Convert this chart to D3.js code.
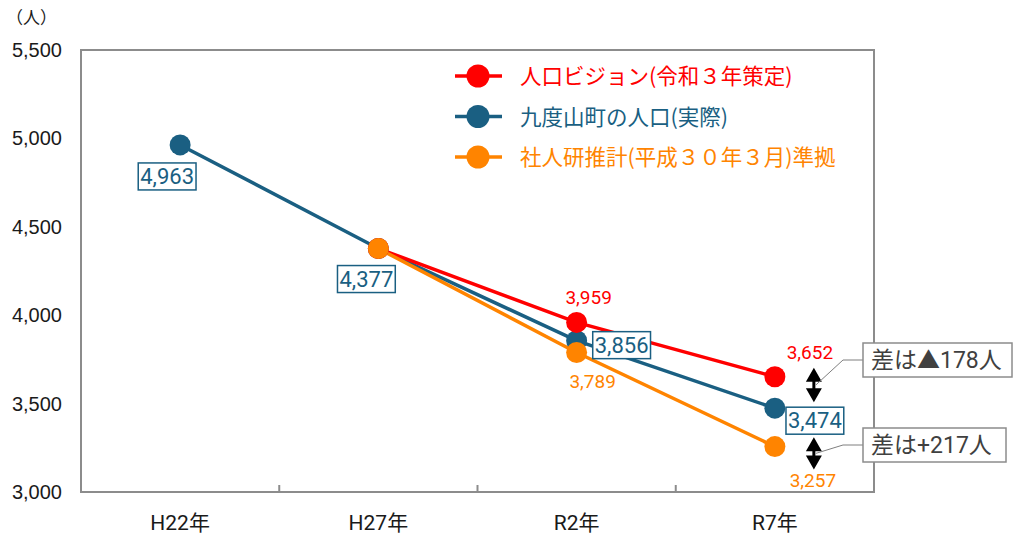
<!DOCTYPE html>
<html>
<head>
<meta charset="utf-8">
<script src="https://cdn.jsdelivr.net/npm/d3@7"></script>
<style>
  body { margin: 0; background: #fff; }
  svg { display: block; }
  text { font-family: Roboto, "Noto Sans CJK JP", sans-serif; }
</style>
</head>
<body>
<div id="chart"></div>
<script>
// data
const years = ['H22年', 'H27年', 'R2年', 'R7年'];
const actualPop = [4963, 4377, 3856, 3474];     // 九度山町の人口（実際）
const visionPop = [null, 4377, 3959, 3652];     // 人口ビジョン（令和3年策定）
const ipssPop = [null, 4377, 3789, 3257];       // 社人研推計 準拠
const yTicks = [3000, 3500, 4000, 4500, 5000, 5500];
const seriesNames = ['人口ビジョン(令和３年策定)', '九度山町の人口(実際)', '社人研推計(平成３０年３月)準拠'];
const diffNotes = ['差は▲178人', '差は+217人'];

const colors = { vision: '#ff0000', actual: '#1a5f82', ipss: '#ff8400' };

const width = 1014, height = 538;
const plot = { left: 81, right: 874, top: 50, bottom: 492 };

const svg = d3.select('#chart').append('svg')
    .attr('width', width)
    .attr('height', height);

const x = d3.scaleBand().domain(years).range([plot.left, plot.right]);
const y = d3.scaleLinear().domain([3000, 5500]).range([plot.bottom, plot.top]);
const cx = (i) => x(years[i]) + x.bandwidth() / 2;

// frame
svg.append('rect')
    .attr('x', plot.left).attr('y', plot.top)
    .attr('width', plot.right - plot.left).attr('height', plot.bottom - plot.top)
    .attr('fill', 'none').attr('stroke', '#8c8c8c').attr('stroke-width', 2);

// y axis labels
const yAxis = d3.axisLeft(y).tickValues(yTicks).tickFormat(d3.format(',')).tickSize(0).tickPadding(19);
const gy = svg.append('g').attr('transform', `translate(${plot.left},0)`).call(yAxis);
gy.select('.domain').remove();
gy.selectAll('text').attr('font-size', 20).attr('fill', '#1a1a1a')
    .style('font-family', '"Liberation Sans", Arial, sans-serif');

svg.append('text').attr('x', 6).attr('y', 24).attr('font-size', 17).attr('fill', '#1a1a1a')
    .style('font-family', '"Noto Sans CJK JP", sans-serif')
    .text('（人）');

// x axis: ticks between categories, pointing inward
const gx = svg.append('g').attr('transform', `translate(0,${plot.bottom})`);
gx.selectAll('line').data(years.slice(1)).join('line')
    .attr('x1', (d) => x(d)).attr('x2', (d) => x(d))
    .attr('y1', 0).attr('y2', -7)
    .attr('stroke', '#8c8c8c').attr('stroke-width', 2);
gx.selectAll('text').data(years).join('text')
    .attr('x', (d) => x(d) + x.bandwidth() / 2)
    .attr('y', 38)
    .attr('text-anchor', 'middle')
    .attr('font-size', 21).attr('fill', '#1a1a1a')
    .text((d) => d);

// series
const series = [
  { key: 'actual', values: actualPop },
  { key: 'vision', values: visionPop },
  { key: 'ipss', values: ipssPop },
];
const line = d3.line()
    .defined((d) => d != null)
    .x((d, i) => cx(i))
    .y((d) => y(d));

series.forEach((s) => {
  svg.append('path').datum(s.values)
      .attr('d', line)
      .attr('fill', 'none')
      .attr('stroke', colors[s.key])
      .attr('stroke-width', 3.5);
});
series.forEach((s) => {
  svg.append('g').selectAll('circle')
      .data(s.values.map((v, i) => ({ v, i })).filter((d) => d.v != null))
      .join('circle')
      .attr('cx', (d) => cx(d.i))
      .attr('cy', (d) => y(d.v))
      .attr('r', 10.5)
      .attr('fill', colors[s.key]);
});

// boxed labels for actual population
const boxOffsets = [[-13, 31], [-12, 30], [45, 4], [40, 12]];
actualPop.forEach((v, i) => {
  const lx = cx(i) + boxOffsets[i][0];
  const ly = y(v) + boxOffsets[i][1];
  const g = svg.append('g');
  const t = g.append('text')
      .attr('x', lx).attr('y', ly + 8)
      .attr('text-anchor', 'middle')
      .attr('font-size', 22).attr('fill', colors.actual)
      .text(d3.format(',')(v));
  const bb = t.node().getBBox();
  g.insert('rect', 'text')
      .attr('x', bb.x - 2).attr('y', ly - 13)
      .attr('width', bb.width + 4).attr('height', 27)
      .attr('fill', '#fff').attr('stroke', colors.actual).attr('stroke-width', 1.5);
});

// plain labels
const plainLabels = [
  { values: visionPop, color: colors.vision, dx: [0, 0, 12, 35], dy: [0, 0, -18, -18] },
  { values: ipssPop, color: colors.ipss, dx: [0, 0, 16, 38], dy: [0, 0, 35, 40] },
];
plainLabels.forEach((p) => {
  p.values.forEach((v, i) => {
    if (v == null || i < 2) return;
    svg.append('text')
        .attr('x', cx(i) + p.dx[i]).attr('y', y(v) + p.dy[i])
        .attr('text-anchor', 'middle')
        .attr('font-size', 19).attr('fill', p.color)
        .text(d3.format(',')(v));
  });
});

// legend
const legendKeys = ['vision', 'actual', 'ipss'];
const lg = svg.append('g').attr('transform', 'translate(455,76)');
legendKeys.forEach((k, i) => {
  const row = lg.append('g').attr('transform', `translate(0,${i * 40.5})`);
  row.append('line').attr('x1', 0).attr('x2', 47).attr('stroke', colors[k]).attr('stroke-width', 3.5);
  row.append('circle').attr('cx', 23).attr('r', 11.5).attr('fill', colors[k]);
  row.append('text').attr('x', 65).attr('y', 8)
      .attr('font-size', 21.5).attr('fill', colors[k])
      .style('font-family', '"Noto Sans CJK JP", sans-serif')
      .text(seriesNames[i]);
});

// difference arrows and notes
const arrowX = cx(3) + 39;
const notes = [
  { from: visionPop[3], to: actualPop[3], text: diffNotes[0], box: [863, 343, 149, 34], off: [-9, -6] },
  { from: actualPop[3], to: ipssPop[3], text: diffNotes[1], box: [863, 428, 143, 34], off: [29, 23] },
];
notes.forEach((n) => {
  const y1 = y(n.from) + n.off[0];
  const y2 = y(n.to) + n.off[1];
  const hw = 8, hh = 14;
  svg.append('line')
      .attr('x1', arrowX).attr('x2', arrowX)
      .attr('y1', y1 + hh - 2).attr('y2', y2 - hh + 2)
      .attr('stroke', '#000').attr('stroke-width', 3);
  svg.append('path')
      .attr('d', `M${arrowX},${y1}L${arrowX + hw},${y1 + hh}L${arrowX - hw},${y1 + hh}Z` +
                 `M${arrowX},${y2}L${arrowX + hw},${y2 - hh}L${arrowX - hw},${y2 - hh}Z`)
      .attr('fill', '#000');
  const my = (y1 + y2) / 2;
  const [bx, by, bw, bh] = n.box;
  svg.append('polyline')
      .attr('points', `${arrowX + 2},${my} ${bx - 20},${by + bh / 2} ${bx},${by + bh / 2}`)
      .attr('fill', 'none').attr('stroke', '#7f7f7f').attr('stroke-width', 1);
  svg.append('rect')
      .attr('x', bx).attr('y', by).attr('width', bw).attr('height', bh)
      .attr('fill', '#fff').attr('stroke', '#8c8c8c').attr('stroke-width', 1.5);
  svg.append('text')
      .attr('x', bx + 8).attr('y', by + bh / 2 + 8)
      .attr('font-size', 23).attr('fill', '#404040')
      .text(n.text);
});
</script>
</body>
</html>
